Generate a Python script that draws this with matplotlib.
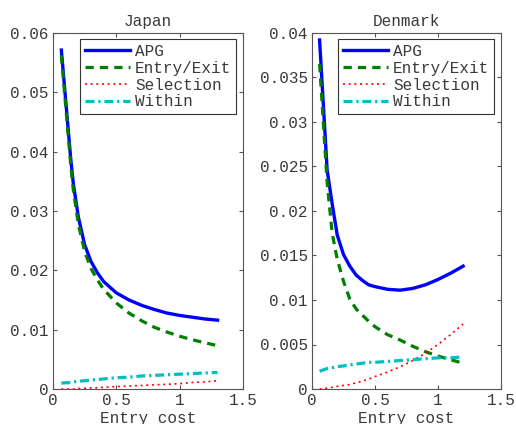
"""Decomposition of aggregate productivity growth against entry cost."""

import matplotlib

matplotlib.use("Agg")
import matplotlib.pyplot as plt

# Japan
jp_cost = [0.066, 0.14, 0.16, 0.2, 0.25, 0.3, 0.35, 0.4, 0.5, 0.6, 0.7, 0.8, 0.9,
           1.0, 1.1, 1.2, 1.3]
jp_apg = [0.0571, 0.0388, 0.0347, 0.0290, 0.0243, 0.0215, 0.0196, 0.0181, 0.0162,
          0.0150, 0.0141, 0.0134, 0.0128, 0.0124, 0.0121, 0.0118, 0.0116]
jp_entry = [0.0562, 0.0378, 0.0336, 0.0278, 0.0232, 0.0203, 0.0184, 0.0168, 0.0145,
            0.0128, 0.0115, 0.0104, 0.0096, 0.0089, 0.0083, 0.0078, 0.0073]
jp_selection = [0.0, 0.0, 0.0, 0.0001, 0.0001, 0.0002, 0.0002, 0.0003, 0.0004,
                0.0005, 0.0006, 0.0007, 0.0008, 0.0009, 0.0011, 0.0012, 0.0014]
jp_within = [0.0010, 0.0011, 0.0012, 0.0013, 0.0014, 0.0015, 0.0016, 0.0017, 0.0019,
             0.0020, 0.0022, 0.0023, 0.0024, 0.0025, 0.0026, 0.0027, 0.0028]

# Denmark
dk_cost = [0.06, 0.12, 0.16, 0.2, 0.25, 0.3, 0.35, 0.4, 0.45, 0.5, 0.6, 0.7, 0.8,
           0.9, 1.0, 1.1, 1.2]
dk_apg = [0.0392, 0.0246, 0.0208, 0.0173, 0.0151, 0.0138, 0.0128, 0.0122, 0.0117,
          0.0115, 0.0112, 0.0111, 0.0113, 0.0117, 0.0123, 0.0130, 0.0138]
dk_entry = [0.0365, 0.0232, 0.0175, 0.0146, 0.0121, 0.0101, 0.0090, 0.0083, 0.0076,
            0.0070, 0.0061, 0.0055, 0.0048, 0.0042, 0.0037, 0.0033, 0.0029]
dk_selection = [0.0, 0.0001, 0.0002, 0.0003, 0.0004, 0.0005, 0.0007, 0.0009, 0.0011,
                0.0014, 0.0019, 0.0025, 0.0032, 0.0040, 0.0050, 0.0061, 0.0073]
dk_within = [0.0020, 0.0023, 0.0024, 0.0025, 0.0026, 0.0027, 0.0028, 0.0029, 0.0030,
             0.0030, 0.0031, 0.0032, 0.0033, 0.0034, 0.0035, 0.0035, 0.0036]

labels = ["APG", "Entry/Exit", "Selection", "Within"]
jp_yticks = [0, 0.01, 0.02, 0.03, 0.04, 0.05, 0.06]
jp_yticklabels = ["0", "0.01", "0.02", "0.03", "0.04", "0.05", "0.06"]
dk_yticks = [0, 0.005, 0.01, 0.015, 0.02, 0.025, 0.03, 0.035, 0.04]
dk_yticklabels = ["0", "0.005", "0.01", "0.015", "0.02", "0.025", "0.03", "0.035", "0.04"]
xticks = [0, 0.5, 1, 1.5]
xticklabels = ["0", "0.5", "1", "1.5"]

plt.rcParams["font.family"] = ["Liberation Mono", "DejaVu Sans"]
plt.rcParams["font.size"] = 11.5
text_color = "#3a3a3a"

fig = plt.figure(figsize=(5.16, 4.24), dpi=100)
ax_jp = fig.add_axes([0.1027, 0.0825, 0.368, 0.840])
ax_dk = fig.add_axes([0.6047, 0.0825, 0.366, 0.840])


def draw(ax, x, apg, entry, sel, within, title, yticks, yticklabels, ymax):
    ax.plot(x, apg, color="#0000ff", lw=2.4, label=labels[0])
    ax.plot(x, entry, color="#007f00", lw=2.3, dashes=(2.6, 1.9), label=labels[1])
    ax.plot(x, sel, color="#ff0000", lw=1.2, dashes=(1.2, 2.2), label=labels[2])
    ax.plot(x, within, color="#00bfbf", lw=2.3, dashes=(2.8, 1.2, 0.7, 1.2),
            label=labels[3])
    ax.set_xlim(0, 1.5)
    ax.set_ylim(0, ymax)
    ax.set_xticks(xticks)
    ax.set_xticklabels(xticklabels)
    ax.set_yticks(yticks)
    ax.set_yticklabels(yticklabels)
    ax.set_title(title, color=text_color, fontsize=11.5, pad=5)
    ax.set_xlabel("Entry cost", color=text_color, labelpad=2)
    ax.tick_params(direction="in", length=3, width=0.8, top=True, right=True,
                   colors="#555555", labelcolor=text_color, pad=3)
    for s in ax.spines.values():
        s.set_color("#555555")
        s.set_linewidth(0.8)
    leg = ax.legend(loc="upper right", bbox_to_anchor=(0.965, 0.983), handlelength=2.8,
                    handletextpad=0.35, labelspacing=0.12, borderpad=0.3,
                    borderaxespad=0.0, fancybox=False, framealpha=1,
                    fontsize=11.5)
    leg.get_frame().set_edgecolor("#333333")
    leg.get_frame().set_linewidth(0.8)
    for t in leg.get_texts():
        t.set_color(text_color)


draw(ax_jp, jp_cost, jp_apg, jp_entry, jp_selection, jp_within, "Japan",
     jp_yticks, jp_yticklabels, 0.06)
draw(ax_dk, dk_cost, dk_apg, dk_entry, dk_selection, dk_within, "Denmark",
     dk_yticks, dk_yticklabels, 0.04)

fig.savefig("out.png", dpi=100)
